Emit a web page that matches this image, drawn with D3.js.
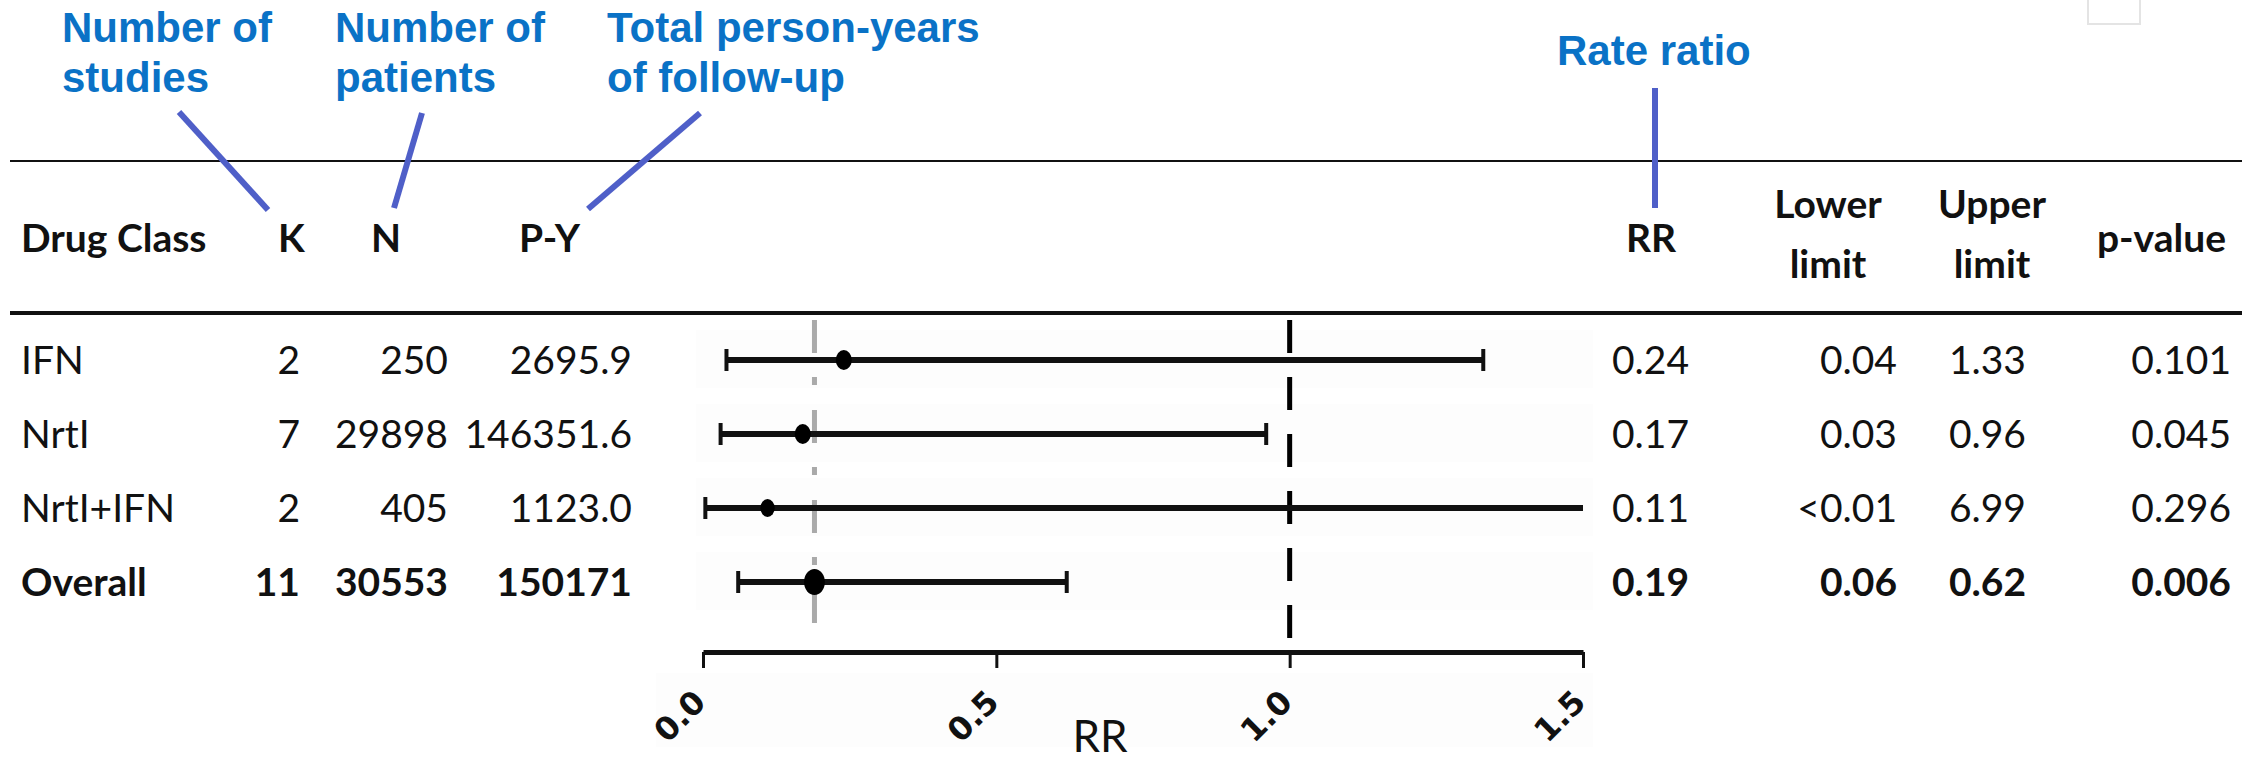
<!DOCTYPE html>
<html>
<head>
<meta charset="utf-8">
<script src="https://cdn.jsdelivr.net/npm/d3@7/dist/d3.min.js"></script>
<style>
  body { margin: 0; background: #fff; }
  svg text { font-family: Lato, "Open Sans", sans-serif; fill: #111; }
</style>
</head>
<body>
<svg id="chart" width="2247" height="762"></svg>
<script>
// Table data
var drugClass = ["IFN", "NrtI", "NrtI+IFN", "Overall"];
var studies = ["2", "7", "2", "11"];
var patients = ["250", "29898", "405", "30553"];
var personYears = ["2695.9", "146351.6", "1123.0", "150171"];
var rr = [0.24, 0.17, 0.11, 0.19];
var lower = [0.04, 0.03, 0.004, 0.06];
var upper = [1.33, 0.96, 6.99, 0.62];
var rrLabels = ["0.24", "0.17", "0.11", "0.19"];
var lowerLabels = ["0.04", "0.03", "<0.01", "0.06"];
var upperLabels = ["1.33", "0.96", "6.99", "0.62"];
var pValues = ["0.101", "0.045", "0.296", "0.006"];
var markerSize = [1, 1, 0.9, 1.3];
var axisTicks = [0, 0.5, 1.0, 1.5];

// Blue call-outs above the header
var notes = [
  { lines: ["Number of", "studies"], x: 62, from: [179, 112], to: [268, 210] },
  { lines: ["Number of", "patients"], x: 335, from: [422, 113], to: [394, 208] },
  { lines: ["Total person-years", "of follow-up"], x: 607, from: [700, 113], to: [588, 209] },
  { lines: ["Rate ratio"], x: 1557, from: [1655, 88], to: [1655, 208] }
];

var svg = d3.select("#chart");
var rowY = d3.scalePoint().domain(drugClass).range([360, 582]);
var x = d3.scaleLinear().domain([0, 1.5]).range([703, 1583]);
var xc = function (v) { return x(Math.min(v, 1.5)); };

// faint row bands behind the plot
svg.selectAll("rect.band").data(drugClass).enter().append("rect")
  .attr("x", 696).attr("width", 897)
  .attr("y", function (d) { return rowY(d) - 30; }).attr("height", 58)
  .attr("fill", "#fdfdfd");

// little empty box in the top-right corner
svg.append("rect").attr("x", 2088).attr("y", -2).attr("width", 52).attr("height", 26)
  .attr("fill", "none").attr("stroke", "#e4e4e4").attr("stroke-width", 2);

// rules
svg.append("line").attr("x1", 10).attr("x2", 2242).attr("y1", 161).attr("y2", 161)
  .attr("stroke", "#111").attr("stroke-width", 2);
svg.append("line").attr("x1", 10).attr("x2", 2242).attr("y1", 313).attr("y2", 313)
  .attr("stroke", "#111").attr("stroke-width", 4);

// call-outs
notes.forEach(function (n) {
  n.lines.forEach(function (t, i) {
    svg.append("text")
      .attr("x", n.x).attr("y", n.lines.length > 1 ? 42 + i * 50 : 65)
      .style("font-family", "'Liberation Sans', Arial, sans-serif")
      .style("font-weight", "bold").style("font-size", "42px").style("fill", "#0a72c6")
      .text(t);
  });
  svg.append("line")
    .attr("x1", n.from[0]).attr("y1", n.from[1]).attr("x2", n.to[0]).attr("y2", n.to[1])
    .attr("stroke", "#4f5fc8").attr("stroke-width", 6);
});

// header row
var headers = [
  { t: ["Drug Class"], x: 21, a: "start" },
  { t: ["K"], x: 278, a: "start" },
  { t: ["N"], x: 371, a: "start" },
  { t: ["P-Y"], x: 519, a: "start" },
  { t: ["RR"], x: 1626, a: "start" },
  { t: ["Lower", "limit"], x: 1828, a: "middle" },
  { t: ["Upper", "limit"], x: 1992, a: "middle" },
  { t: ["p-value"], x: 2226, a: "end" }
];
headers.forEach(function (h) {
  h.t.forEach(function (t, i) {
    svg.append("text").attr("x", h.x)
      .attr("y", h.t.length > 1 ? 218 + i * 60 : 252)
      .attr("text-anchor", h.a)
      .style("font-weight", "bold").style("font-size", "39px")
      .text(t);
  });
});

// table columns
var columns = [
  { vals: drugClass, x: 21, a: "start" },
  { vals: studies, x: 300, a: "end" },
  { vals: patients, x: 448, a: "end" },
  { vals: personYears, x: 632, a: "end" },
  { vals: rrLabels, x: 1612, a: "start" },
  { vals: lowerLabels, x: 1897, a: "end" },
  { vals: upperLabels, x: 2026, a: "end" },
  { vals: pValues, x: 2231, a: "end" }
];
columns.forEach(function (c) {
  svg.selectAll(null).data(c.vals).enter().append("text")
    .attr("x", c.x)
    .attr("y", function (d, i) { return rowY(drugClass[i]) + 14; })
    .attr("text-anchor", c.a)
    .style("font-size", "39px")
    .style("font-weight", function (d, i) { return i === 3 ? "bold" : "normal"; })
    .text(function (d) { return d; });
});

// reference lines: overall estimate (grey dash-dot) and no effect (black dashed)
svg.append("line").attr("x1", x(rr[3])).attr("x2", x(rr[3])).attr("y1", 320).attr("y2", 623)
  .attr("stroke", "#aaa").attr("stroke-width", 5).attr("stroke-dasharray", "33,24,8,25");
svg.append("line").attr("x1", x(1)).attr("x2", x(1)).attr("y1", 320).attr("y2", 640)
  .attr("stroke", "#000").attr("stroke-width", 5).attr("stroke-dasharray", "33,24");

// confidence intervals
var ci = svg.append("g");
ci.selectAll("line.ci").data(drugClass).enter().append("line")
  .attr("x1", function (d, i) { return xc(lower[i]); })
  .attr("x2", function (d, i) { return xc(upper[i]); })
  .attr("y1", function (d) { return rowY(d); }).attr("y2", function (d) { return rowY(d); })
  .attr("stroke", "#111").attr("stroke-width", 6);
// whisker caps (none where the interval runs off the axis)
[lower, upper].forEach(function (lim) {
  ci.selectAll(null).data(drugClass.filter(function (d, i) { return lim[i] <= 1.5; })).enter().append("line")
    .attr("x1", function (d) { return xc(lim[drugClass.indexOf(d)]); })
    .attr("x2", function (d) { return xc(lim[drugClass.indexOf(d)]); })
    .attr("y1", function (d) { return rowY(d) - 11; }).attr("y2", function (d) { return rowY(d) + 11; })
    .attr("stroke", "#111").attr("stroke-width", 4);
});
ci.selectAll("ellipse").data(drugClass).enter().append("ellipse")
  .attr("cx", function (d, i) { return x(rr[i]); })
  .attr("cy", function (d) { return rowY(d); })
  .attr("rx", function (d, i) { return 8 * markerSize[i]; })
  .attr("ry", function (d, i) { return 10 * markerSize[i]; })
  .attr("fill", "#000");

// x axis
svg.append("rect").attr("x", 656).attr("y", 673).attr("width", 937).attr("height", 74).attr("fill", "#fdfdfd");
var axis = svg.append("g").attr("transform", "translate(0,652)")
  .call(d3.axisBottom(x).tickValues(axisTicks).tickFormat(d3.format(".1f")).tickSize(16).tickSizeOuter(0));
axis.select(".domain").attr("stroke", "#111").attr("stroke-width", 5);
axis.selectAll(".tick line").attr("stroke", "#111").attr("stroke-width", 3);
axis.selectAll(".tick text")
  .attr("transform", "translate(4,52) rotate(-45)")
  .attr("text-anchor", "end").attr("dy", 0).attr("y", 0)
  .style("font-family", "'DejaVu Sans', sans-serif").style("font-weight", "bold")
  .style("font-size", "32px").style("fill", "#111");

svg.append("text").attr("x", 1100).attr("y", 752).attr("text-anchor", "middle")
  .style("font-size", "44px").text("RR");
</script>
</body>
</html>
